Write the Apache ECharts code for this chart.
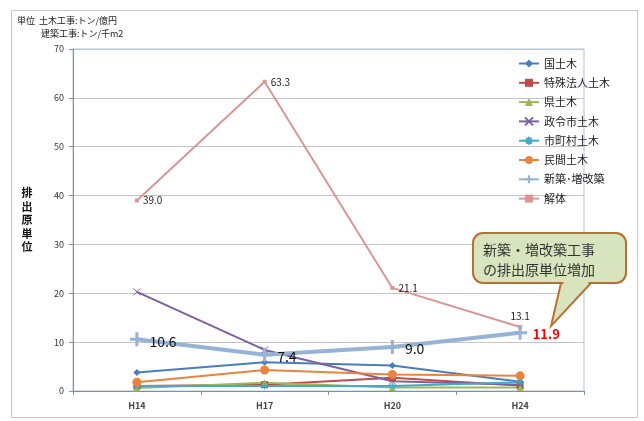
<!DOCTYPE html>
<html>
<head>
<meta charset="utf-8">
<script src="https://cdn.jsdelivr.net/npm/echarts@6/dist/echarts.min.js"></script>
<style>
  html, body { margin: 0; padding: 0; background: #fff; }
  #chart { width: 644px; height: 421px; }
</style>
</head>
<body>
<div id="chart"></div>
<script>
// Survey years
const years = ['H14', 'H17', 'H20', 'H24'];

// Emission intensity per sector (civil: t / 100M yen, building: t / 1000 m2)
const kokuDoboku    = [3.8, 5.9, 5.2, 1.9];   // 国土木
const tokushuDoboku = [1.0, 1.3, 2.7, 1.1];   // 特殊法人土木
const kenDoboku     = [0.6, 1.7, 0.7, 0.7];   // 県土木
const seireiDoboku  = [20.3, 8.4, 2.0, 1.3];  // 政令市土木
const shichosonDoboku = [1.0, 1.0, 1.0, 1.8]; // 市町村土木
const minkanDoboku  = [1.8, 4.3, 3.4, 3.1];   // 民間土木
const shinchiku     = [10.6, 7.4, 9.0, 11.9]; // 新築･増改築
const kaitai        = [39.0, 63.3, 21.1, 13.1]; // 解体

const yTicks = { min: 0, max: 70, interval: 10 };

const FONT = '"Noto Sans CJK JP", "Noto Sans", sans-serif';

const chart = echarts.init(document.getElementById('chart'), null, { renderer: 'canvas' });

const xMark = 'path://M0,0L10,10M10,0L0,10';
const starMark = 'path://M5,0L5,10M0,5L10,5M1.5,1.5L8.5,8.5M8.5,1.5L1.5,8.5';
const plusMark = 'path://M5,0L5,10M0,5L10,5';

function lineSeries(name, data, color, symbol, size, extra) {
  return Object.assign({
    name: name,
    type: 'line',
    data: data,
    color: color,
    symbol: symbol,
    symbolSize: size,
    showAllSymbol: true,
    lineStyle: { width: 2, color: color },
    itemStyle: { color: color },
    emphasis: { disabled: true },
    animation: false
  }, extra || {});
}

const option = {
  animation: false,
  textStyle: { fontFamily: FONT },
  grid: {
    left: 73, right: 60, top: 49, bottom: 30,
    show: true, borderColor: '#a9c2e2', borderWidth: 1, backgroundColor: 'transparent'
  },
  legend: {
    orient: 'vertical',
    left: 513, top: 53,
    itemWidth: 20, itemHeight: 10, itemGap: 8.3,
    textStyle: { fontSize: 11, color: '#222', fontFamily: FONT },
    data: ['国土木', '特殊法人土木', '県土木', '政令市土木', '市町村土木', '民間土木', '新築･増改築', '解体']
  },
  xAxis: {
    type: 'category',
    data: years,
    boundaryGap: true,
    axisLine: { lineStyle: { color: '#8c8c8c', width: 1 } },
    axisTick: { show: true, length: 4, lineStyle: { color: '#8c8c8c' } },
    axisLabel: { fontSize: 9, color: '#444', margin: 10, fontWeight: 'bold', fontFamily: FONT },
    splitLine: { show: false }
  },
  yAxis: {
    type: 'value',
    min: yTicks.min, max: yTicks.max, interval: yTicks.interval,
    axisLine: { show: true, lineStyle: { color: '#8c8c8c', width: 1 } },
    axisTick: { show: true, length: 4, lineStyle: { color: '#8c8c8c' } },
    axisLabel: { fontSize: 9, color: '#333', margin: 9, fontFamily: FONT },
    splitLine: { show: true, lineStyle: { color: '#c4c4c4', width: 1 } }
  },
  series: [
    lineSeries('国土木', kokuDoboku, '#4a7ebb', 'diamond', 7),
    lineSeries('特殊法人土木', tokushuDoboku, '#be4b48', 'rect', 7),
    lineSeries('県土木', kenDoboku, '#98b954', 'triangle', 7),
    lineSeries('政令市土木', seireiDoboku, '#7d60a0', xMark, 7,
      { itemStyle: { color: '#7d60a0', borderColor: '#7d60a0', borderWidth: 1 } }),
    lineSeries('市町村土木', shichosonDoboku, '#46aac5', starMark, 7,
      { itemStyle: { color: '#46aac5', borderColor: '#46aac5', borderWidth: 1 } }),
    lineSeries('民間土木', minkanDoboku, '#e8853d', 'circle', 9),
    lineSeries('解体', kaitai, '#d99694', 'rect', 4, {
      label: {
        show: true, position: 'right', distance: 4,
        fontSize: 10, color: '#222', fontFamily: FONT,
        formatter: p => p.value.toFixed(1)
      },
      data: kaitai.map((v, i) => i === kaitai.length - 1
        ? { value: v, label: { position: 'top', distance: 4 } }
        : v)
    }),
    lineSeries('新築･増改築', shinchiku, '#95b3d7', plusMark, 14, {
      lineStyle: { width: 4, color: '#95b3d7' },
      itemStyle: { color: '#95b3d7', borderColor: '#95b3d7', borderWidth: 3 },
      label: {
        show: true, position: 'right', distance: 4, offset: [0, 2],
        fontSize: 14, color: '#111', fontFamily: FONT,
        formatter: p => p.value.toFixed(1)
      },
      data: shinchiku.map((v, i) => i === shinchiku.length - 1
        ? { value: v, label: { color: '#ff0000', fontWeight: 'bold', fontSize: 13, offset: [0, 1] } }
        : v)
    })
  ]
};

chart.setOption(option);

// Callout pointing to the latest building-work label
const tipBase = chart.convertToPixel({ seriesIndex: 7 }, [years.length - 1, shinchiku[shinchiku.length - 1]]);
const tipX = tipBase[0] + 31, tipY = tipBase[1] - 7;
const bx = 473, by = 233, bw = 153, bh = 50;
const p1 = 561, p2 = 591; // pointer base on the bottom edge
const calloutFill = '#d7e4bd', calloutStroke = '#b7702f';

chart.setOption({
  graphic: [
    {
      type: 'rect', silent: true, z: -10,
      shape: { x: 11.5, y: 10.5, width: 626, height: 407 },
      style: { fill: 'none', stroke: '#c6c6c6', lineWidth: 1 }
    },
    {
      type: 'text', x: 17, y: 16, silent: true,
      style: { text: '単位  土木工事:トン/億円', fontSize: 9, fill: '#222', fontFamily: FONT }
    },
    {
      type: 'text', x: 41, y: 29, silent: true,
      style: { text: '建築工事:トン/千m2', fontSize: 9, fill: '#222', fontFamily: FONT }
    },
    {
      type: 'text', silent: true, x: 27, y: 220,
      style: {
        text: '排\n出\n原\n単\n位', fontSize: 11, fontWeight: 'bold', lineHeight: 13.5,
        fill: '#111', align: 'center', verticalAlign: 'middle', fontFamily: FONT
      }
    },
    {
      type: 'rect', silent: true, z: 100,
      shape: { x: bx, y: by, width: bw, height: bh, r: 10 },
      style: { fill: calloutFill, stroke: calloutStroke, lineWidth: 2 }
    },
    {
      type: 'polygon', silent: true, z: 101,
      shape: { points: [[p1, by + bh], [tipX, tipY], [p2, by + bh]] },
      style: { fill: calloutFill, stroke: calloutStroke, lineWidth: 2, lineJoin: 'miter' }
    },
    {
      type: 'polygon', silent: true, z: 102,
      shape: { points: [[p1 + 2, by + bh - 4], [p2 - 2, by + bh - 4], [p2 - 3, by + bh + 1.5], [p1 + 2.6, by + bh + 1.5]] },
      style: { fill: calloutFill }
    },
    {
      type: 'text', silent: true, z: 103, x: 483, y: 240,
      style: {
        text: '新築・増改築工事\nの排出原単位増加', fontSize: 14, lineHeight: 20,
        fill: '#333', fontFamily: FONT
      }
    }
  ]
});
</script>
</body>
</html>
